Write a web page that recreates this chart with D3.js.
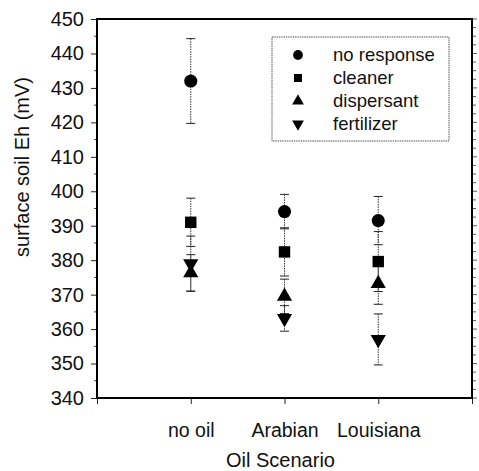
<!DOCTYPE html>
<html><head><meta charset="utf-8">
<script src="https://cdn.jsdelivr.net/npm/d3@7"></script>
<style>body{margin:0;background:#fff}svg{display:block}text{font-family:"Liberation Sans",Arial,sans-serif;fill:#111}</style>
</head><body>
<script>
const categories = ["no oil", "Arabian", "Louisiana"];
const seriesNames = ["no response", "cleaner", "dispersant", "fertilizer"];
const noResponse = [432.0, 394.1, 391.5];
const noResponseErr = [12.3, 5.0, 7.0];
const cleaner = [391.0, 382.4, 379.6];
const cleanerErr = [7.0, 7.0, 8.7];
const dispersant = [376.3, 369.5, 373.2];
const dispersantErr = [5.3, 5.0, 6.0];
const fertilizer = [379.0, 363.1, 357.0];
const fertilizerErr = [8.0, 3.7, 7.4];
const yTicks = [340, 350, 360, 370, 380, 390, 400, 410, 420, 430, 440, 450];

const W = 479, H = 471;
const m = {left: 97, right: 472, top: 19, bottom: 398};
const svg = d3.select("body").append("svg").attr("width", W).attr("height", H);

const x = d3.scaleLinear().domain([0, 4]).range([m.left, m.right]);
const y = d3.scaleLinear().domain([340, 450]).range([m.bottom, m.top]);

const symbols = [d3.symbolCircle, d3.symbolSquare, d3.symbolTriangle, "down"];
function markPath(k, size) {
  if (k === 3) {
    const p = d3.symbol(d3.symbolTriangle, size)();
    return p;
  }
  return d3.symbol(symbols[k], size)();
}

const series = [
  {v: noResponse, e: noResponseErr},
  {v: cleaner, e: cleanerErr},
  {v: dispersant, e: dispersantErr},
  {v: fertilizer, e: fertilizerErr}
];
const sizes = [135, 130, 100, 100];

// Left axis
const yAxis = d3.axisLeft(y).tickValues(yTicks).tickSize(6).tickPadding(7);
const gy = svg.append("g").attr("transform", `translate(${m.left},0)`).call(yAxis);
gy.select(".domain").remove();
gy.selectAll("text").attr("font-size", 20).style("font-family", '"Liberation Sans",Arial,sans-serif');
gy.selectAll("line").attr("stroke", "#222");
// minor left ticks
const minorL = d3.range(345, 450, 10);
svg.append("g").selectAll("line").data(minorL).join("line")
  .attr("x1", m.left - 3).attr("x2", m.left)
  .attr("y1", d => y(d)).attr("y2", d => y(d)).attr("stroke", "#444");

// Right axis ticks (outward)
const rightTicks = d3.range(340, 450.01, 2.5);
svg.append("g").selectAll("line").data(rightTicks).join("line")
  .attr("x1", m.right).attr("x2", d => m.right + (d % 10 === 0 ? 5 : 4))
  .attr("y1", d => y(d)).attr("y2", d => y(d)).attr("stroke", "#333").attr("stroke-width", 0.8);

// Bottom axis
const xAxis = d3.axisBottom(x).tickValues([0, 1, 2, 3, 4]).tickSize(6)
  .tickFormat(d => (d >= 1 && d <= 3) ? categories[d - 1] : "").tickPadding(19);
const gx = svg.append("g").attr("transform", `translate(0,${m.bottom})`).call(xAxis);
gx.select(".domain").remove();
gx.selectAll("text").attr("font-size", 19.5).style("font-family", '"Liberation Sans",Arial,sans-serif');
gx.selectAll("line").attr("stroke", "#222");

// Frame
svg.append("rect").attr("x", m.left).attr("y", m.top)
  .attr("width", m.right - m.left).attr("height", m.bottom - m.top)
  .attr("fill", "none").attr("stroke", "#000").attr("stroke-width", 2);

// Axis titles
svg.append("text").attr("x", (m.left + m.right) / 2 - 4).attr("y", 467)
  .attr("text-anchor", "middle").attr("font-size", 20).text("Oil Scenario");
svg.append("text").attr("transform", "translate(29,167) rotate(-90)")
  .attr("text-anchor", "middle").attr("font-size", 20).text("surface soil Eh (mV)");

// Error bars
const capW = 4.5;
series.forEach((s, k) => {
  const g = svg.append("g");
  categories.forEach((c, i) => {
    const cx = x(i + 1), hi = y(s.v[i] + s.e[i]), lo = y(s.v[i] - s.e[i]);
    g.append("line").attr("x1", cx).attr("x2", cx).attr("y1", hi).attr("y2", lo)
      .attr("stroke", "#333").attr("stroke-width", 1).attr("stroke-dasharray", "1.5,1");
    [hi, lo].forEach(yy => g.append("line").attr("x1", cx - capW).attr("x2", cx + capW)
      .attr("y1", yy).attr("y2", yy).attr("stroke", "#222").attr("stroke-width", 1));
  });
});

// Markers
series.forEach((s, k) => {
  svg.append("g").selectAll("path").data(s.v).join("path")
    .attr("d", markPath(k, sizes[k]))
    .attr("transform", (d, i) => `translate(${x(i + 1)},${y(d)})` + (k === 3 ? " rotate(180)" : ""))
    .attr("fill", "#000");
});

// Legend
const lg = svg.append("g");
lg.append("rect").attr("x", 272).attr("y", 37).attr("width", 177).attr("height", 104)
  .attr("fill", "#fff").attr("stroke", "#555").attr("stroke-width", 1).attr("stroke-dasharray", "1.5,0.8");
const legendSizes = [75, 65, 60, 60];
seriesNames.forEach((n, k) => {
  const yy = 55 + k * 23;
  lg.append("path").attr("d", markPath(k, legendSizes[k]))
    .attr("transform", `translate(298,${yy})` + (k === 3 ? " rotate(180)" : "")).attr("fill", "#000");
  lg.append("text").attr("x", 333).attr("y", yy).attr("dy", "0.35em")
    .attr("font-size", 18.5).text(n);
});
</script>
</body></html>
